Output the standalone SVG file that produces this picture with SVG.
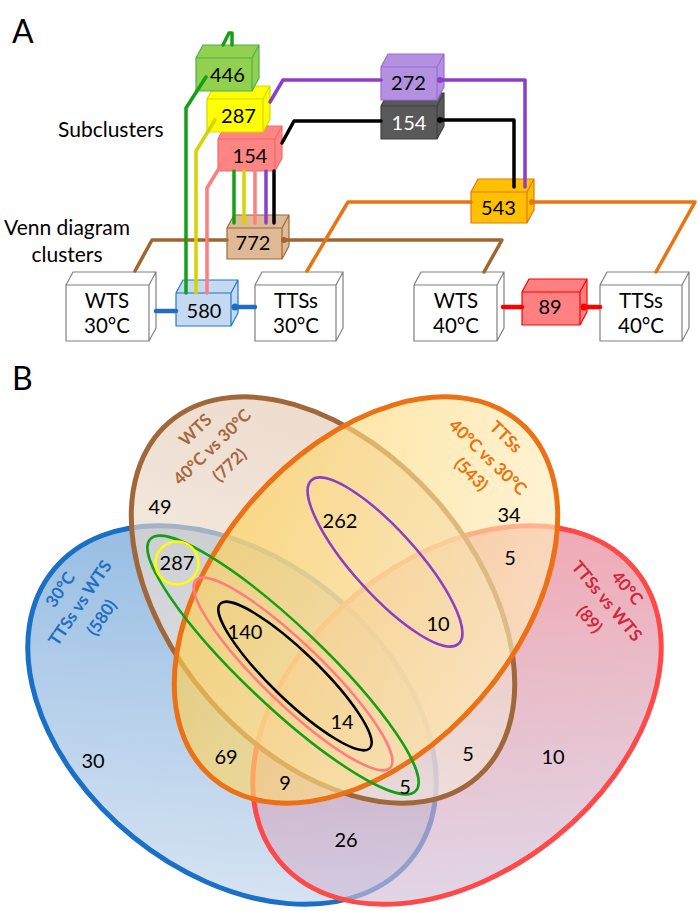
<svg xmlns="http://www.w3.org/2000/svg" width="700" height="911" viewBox="0 0 700 911">
<defs>
<style>
text{font-family:Lato,"Liberation Sans",sans-serif}
.n{font-size:20px;text-anchor:middle;fill:#000}
.w{font-size:20.5px;text-anchor:middle;fill:#000}
.lbl{font-size:21px;fill:#000}
.big{font-size:32px;fill:#000}
.cube{stroke-width:1.2;stroke-linejoin:round}
.c{fill:none;stroke-width:3.5;stroke-linecap:round;stroke-linejoin:round}
.thick{stroke-width:4.5}
.v{stroke-width:5;fill-opacity:0.65}
.in{fill:none;stroke-width:2.5}
.vl{font-size:17px;font-weight:bold;text-anchor:middle}
</style>
<linearGradient id="gBlue" x1="0" y1="0" x2="1" y2="1"><stop offset="0" stop-color="#4a8ecf"/><stop offset="1" stop-color="#d4dff0"/></linearGradient>
<linearGradient id="gRed" x1="1" y1="0" x2="0" y2="1"><stop offset="0" stop-color="#ec6e7c"/><stop offset="1" stop-color="#cccde8"/></linearGradient>
<linearGradient id="gBrown" x1="0" y1="0" x2="1" y2="1"><stop offset="0" stop-color="#e0c3ab"/><stop offset="1" stop-color="#f8f1eb"/></linearGradient>
<linearGradient id="gOrange" x1="0" y1="0" x2="1" y2="1"><stop offset="0" stop-color="#ffc83a"/><stop offset="1" stop-color="#fff3d6"/></linearGradient>
</defs>

<!-- Panel A labels -->
<text class="big" x="12" y="43">A</text>
<text class="lbl" x="58" y="137">Subclusters</text>
<text class="lbl" x="67" y="235" text-anchor="middle">Venn diagram</text>
<text class="lbl" x="67" y="262" text-anchor="middle">clusters</text>

<!-- Panel A boxes -->
<g id="box-wts30"><path class="cube" fill="#fff" stroke="#808080" d="M66,285h83v56h-83Z M66,285l7,-13h83l-7,13Z M149,285l7,-13v56l-7,13Z"/><text class="w" x="107" y="308">WTS</text><text class="w" x="107" y="333">30°C</text></g>
<g id="box-tts30"><path class="cube" fill="#fff" stroke="#808080" d="M255,285h81v56h-81Z M255,285l7,-13h81l-7,13Z M336,285l7,-13v56l-7,13Z"/><text class="w" x="296" y="308">TTSs</text><text class="w" x="296" y="333">30°C</text></g>
<g id="box-wts40"><path class="cube" fill="#fff" stroke="#808080" d="M414,285h83v56h-83Z M414,285l7,-13h83l-7,13Z M497,285l7,-13v56l-7,13Z"/><text class="w" x="456" y="308">WTS</text><text class="w" x="456" y="333">40°C</text></g>
<g id="box-tts40"><path class="cube" fill="#fff" stroke="#808080" d="M600,285h82v56h-82Z M600,285l7,-13h82l-7,13Z M682,285l7,-13v56l-7,13Z"/><text class="w" x="641" y="308">TTSs</text><text class="w" x="641" y="333">40°C</text></g>

<g id="box-154p"><path class="cube" fill="#ff8585" stroke="#f26a6a" d="M218,139h57v32h-57Z M218,139l7,-13h57l-7,13Z M275,139l7,-13v32l-7,13Z"/><text class="n" x="250" y="163">154</text></g>
<g id="box-287"><path class="cube" fill="#ffff00" stroke="#d8d800" d="M207,99h56v33h-56Z M207,99l7,-13h56l-7,13Z M263,99l7,-13v33l-7,13Z"/><text class="n" x="238.5" y="123">287</text></g>
<g id="box-446"><path class="cube" fill="#92d050" stroke="#4fb04f" d="M196,58h56v33h-56Z M196,58l7,-13h56l-7,13Z M252,58l7,-13v33l-7,13Z"/><text class="n" x="227.5" y="82">446</text></g>
<g id="box-154d"><path class="cube" fill="#595959" stroke="#404040" d="M381,106h56v33h-56Z M381,106l7,-13h56l-7,13Z M437,106l7,-13v33l-7,13Z"/><text class="n" x="409" y="130" style="fill:#fff">154</text></g>
<g id="box-272"><path class="cube" fill="#b490e0" stroke="#9a6cd6" d="M381,67h56v33h-56Z M381,67l7,-13h56l-7,13Z M437,67l7,-13v33l-7,13Z"/><text class="n" x="408.5" y="90">272</text></g>
<g id="box-543"><path class="cube" fill="#ffc000" stroke="#e97311" d="M471,192h56v31h-56Z M471,192l7,-13h56l-7,13Z M527,192l7,-13v31l-7,13Z"/><text class="n" x="498.5" y="215">543</text></g>
<g id="box-772"><path class="cube" fill="#dfb995" stroke="#9c6b3c" d="M227,228h55v31h-55Z M227,228l7,-13h55l-7,13Z M282,228l7,-13v31l-7,13Z"/><text class="n" x="253" y="250">772</text></g>
<g id="box-580"><path class="cube" fill="#c5d9f1" stroke="#1f77d0" d="M176,293h55v33h-55Z M176,293l7,-13h55l-7,13Z M231,293l7,-13v33l-7,13Z"/><text class="n" x="204" y="318">580</text></g>
<g id="box-89"><path class="cube" fill="#ff8080" stroke="#ff0000" d="M522,292h58v33h-58Z M522,292l7,-13h58l-7,13Z M580,292l7,-13v33l-7,13Z"/><text class="n" x="550" y="314">89</text></g>

<!-- Panel A connectors -->
<g id="connectors-a">
<path class="c" stroke="#a0662f" d="M135,271 L152,240 H227"/>
<path class="c" stroke="#a0662f" d="M283,240 H502 L484,272"/>
<circle cx="284" cy="240" r="3" fill="#a0662f"/>
<path class="c" stroke="#e97311" d="M307,271 L348,202 H471"/>
<path class="c" stroke="#e97311" d="M532,202 H695 L656,272"/>
<circle cx="532" cy="202" r="3" fill="#e97311"/>
<path class="c" stroke="#14a014" d="M223,45 L229,33 L232,33 L232,45"/>
<path class="c" stroke="#14a014" d="M206,77 L186,108 V293"/>
<path class="c" stroke="#d4d400" d="M215,120 L196,151 V293"/>
<path class="c" stroke="#ff7c80" d="M226,157 L207,188 V293"/>
<path class="c" stroke="#14a014" d="M234,171 V223"/>
<path class="c" stroke="#d4d400" d="M244,171 V223"/>
<path class="c" stroke="#ff7c80" d="M255,171 V223"/>
<path class="c" stroke="#8a3fc8" d="M266,171 V223"/>
<path class="c" stroke="#000" d="M274,171 V223"/>
<path class="c" stroke="#8a3fc8" d="M270,102 L283,80 H381"/>
<path class="c" stroke="#8a3fc8" d="M440,80 H525 V187"/>
<circle cx="440" cy="80" r="3" fill="#8a3fc8"/>
<path class="c" stroke="#000" d="M282,143 L294,121 H381"/>
<path class="c" stroke="#000" d="M440,120 H514 V187"/>
<circle cx="440" cy="120" r="3" fill="#000"/>
<path class="c thick" stroke="#1f6fc0" d="M156,311 H176"/>
<path class="c thick" stroke="#1f6fc0" d="M235,307 H255"/>
<circle cx="235" cy="307" r="3.5" fill="#1f6fc0"/>
<path class="c thick" stroke="#ff0000" d="M503,307 H522"/>
<path class="c thick" stroke="#ff0000" d="M584,307 H600"/>
<circle cx="584" cy="307" r="3.5" fill="#ff0000"/>
</g>

<!-- Panel B -->
<text class="big" x="12" y="390">B</text>
<g id="venn">
<ellipse id="set-blue" class="v" cx="0" cy="0" rx="230" ry="157" transform="translate(232,715) rotate(39)" fill="url(#gBlue)" stroke="#1a6fc6"/>
<ellipse id="set-red" class="v" cx="0" cy="0" rx="230" ry="157" transform="translate(457,715) rotate(-39)" fill="url(#gRed)" stroke="#ff4848"/>
<ellipse id="set-brown" class="v" cx="0" cy="0" rx="235" ry="151" transform="translate(323,600) rotate(49)" fill="url(#gBrown)" stroke="#a0673a"/>
<ellipse id="set-orange" class="v" cx="0" cy="0" rx="235" ry="151" transform="translate(366,600) rotate(-49)" fill="url(#gOrange)" stroke="#ec7014"/>
</g>
<g id="subclusters-b">
<ellipse class="in" cx="0" cy="0" rx="110" ry="32" transform="translate(385,562) rotate(48)" stroke="#8a3fc8"/>
<ellipse class="in" cx="0" cy="0" rx="183" ry="40" transform="translate(283,665) rotate(43.5)" stroke="#14a014"/>
<ellipse class="in" cx="0" cy="0" rx="135" ry="30" transform="translate(293,674) rotate(44)" stroke="#ff7c80"/>
<ellipse class="in" cx="0" cy="0" rx="104" ry="24" transform="translate(295,676) rotate(44)" stroke="#000"/>
<circle class="in" cx="177" cy="563" r="21.5" stroke="#ffff00"/>
</g>

<g id="venn-labels">
<g transform="translate(80,603) rotate(-56)" fill="#1f70c1"><text class="vl" x="0" y="-18">30°C</text><text class="vl" x="0" y="6">TTSs vs WTS</text><text class="vl" x="0" y="32">(580)</text></g>
<g transform="translate(212,447) rotate(-44)" fill="#a5673f"><text class="vl" x="0" y="-18">WTS</text><text class="vl" x="0" y="6">40°C vs 30°C</text><text class="vl" x="0" y="31">(772)</text></g>
<g transform="translate(488,457) rotate(44)" fill="#e8720c"><text class="vl" x="-1" y="-21">TTSs</text><text class="vl" x="0" y="6">40°C vs 30°C</text><text class="vl" x="0" y="30">(543)</text></g>
<g transform="translate(607,601) rotate(50)" fill="#d0283a"><text class="vl" x="3" y="-18">40°C</text><text class="vl" x="0" y="6">TTSs vs WTS</text><text class="vl" x="3" y="31">(89)</text></g>
</g>

<g id="venn-numbers">
<text class="n" x="160" y="514">49</text>
<text class="n" x="177" y="570">287</text>
<text class="n" x="340" y="528">262</text>
<text class="n" x="509" y="522">34</text>
<text class="n" x="510" y="565">5</text>
<text class="n" x="438" y="631">10</text>
<text class="n" x="245" y="639">140</text>
<text class="n" x="342" y="729">14</text>
<text class="n" x="93" y="768">30</text>
<text class="n" x="226" y="764">69</text>
<text class="n" x="285" y="790">9</text>
<text class="n" x="405" y="794">5</text>
<text class="n" x="468" y="761">5</text>
<text class="n" x="553" y="764">10</text>
<text class="n" x="346" y="847">26</text>
</g>
</svg>
